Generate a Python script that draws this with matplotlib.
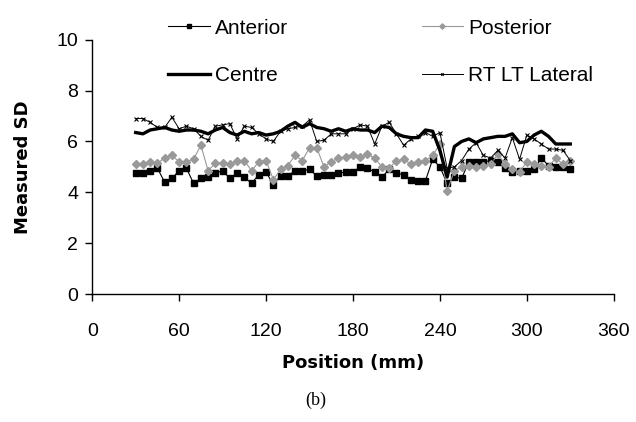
import matplotlib

matplotlib.use("Agg")

import matplotlib.pyplot as plt
import numpy as np

# positions every 5 mm from 30 to 330
position = np.arange(30, 335, 5)

anterior = [4.75, 4.75, 4.85, 4.95, 4.4, 4.55, 4.85, 4.95, 4.35, 4.55,
            4.6, 4.75, 4.85, 4.55, 4.75, 4.6, 4.35, 4.7, 4.8, 4.3,
            4.65, 4.65, 4.85, 4.85, 4.9, 4.65, 4.7, 4.7, 4.75, 4.8,
            4.8, 5.0, 4.95, 4.8, 4.6, 4.9, 4.75, 4.7, 4.5, 4.45,
            4.45, 5.3, 5.0, 4.35, 4.6, 4.55, 5.2, 5.2, 5.2, 5.25,
            5.2, 4.95, 4.8, 4.85, 4.85, 4.9, 5.35, 5.05, 5.0, 5.0,
            4.9]

posterior = [5.1, 5.1, 5.2, 5.15, 5.35, 5.45, 5.2, 5.2, 5.3, 5.85,
             4.85, 5.15, 5.15, 5.1, 5.25, 5.25, 4.85, 5.2, 5.25, 4.5,
             4.9, 5.05, 5.45, 5.25, 5.75, 5.75, 5.0, 5.2, 5.35, 5.4,
             5.45, 5.4, 5.5, 5.35, 5.0, 4.95, 5.25, 5.3, 5.1, 5.2,
             5.25, 5.45, 5.9, 4.05, 4.85, 5.0, 5.05, 5.0, 5.05, 5.1,
             5.5, 5.1, 4.9, 4.8, 5.2, 5.1, 5.05, 5.0, 5.35, 5.1,
             5.25]

centre = [6.35, 6.3, 6.45, 6.5, 6.55, 6.45, 6.4, 6.45, 6.45, 6.4,
          6.3, 6.45, 6.55, 6.35, 6.25, 6.4, 6.3, 6.35, 6.25, 6.3,
          6.4, 6.6, 6.75, 6.55, 6.7, 6.55, 6.5, 6.4, 6.5, 6.4,
          6.5, 6.45, 6.45, 6.35, 6.6, 6.55, 6.3, 6.2, 6.15, 6.15,
          6.45, 6.4, 5.65, 4.6, 5.8, 6.0, 6.1, 5.95, 6.1, 6.15,
          6.2, 6.2, 6.3, 5.95, 6.0, 6.25, 6.4, 6.2, 5.9, 5.9,
          5.9]

rt_lt_lateral = [6.9, 6.9, 6.75, 6.55, 6.55, 6.95, 6.5, 6.6, 6.5, 6.2,
                 6.05, 6.6, 6.65, 6.7, 6.1, 6.6, 6.55, 6.3, 6.1, 6.0,
                 6.4, 6.5, 6.55, 6.6, 6.85, 6.0, 6.05, 6.3, 6.3, 6.3,
                 6.5, 6.65, 6.6, 5.9, 6.6, 6.75, 6.3, 5.85, 6.1, 6.2,
                 6.35, 6.2, 6.35, 4.95, 5.0, 5.25, 5.7, 5.95, 5.45, 5.35,
                 5.65, 5.35, 6.15, 5.3, 6.25, 6.1, 5.9, 5.7, 5.7, 5.65,
                 5.25]

x_ticks = [0, 60, 120, 180, 240, 300, 360]
y_ticks = [0, 2, 4, 6, 8, 10]

plt.rcParams["font.family"] = ["Liberation Sans", "DejaVu Sans"]

fig = plt.figure(figsize=(6.36, 4.22), dpi=100)
ax = fig.add_axes([0.145, 0.303, 0.82, 0.603])

l_ant, = ax.plot(position, anterior, "-", color="black", lw=0.8,
                 marker="s", ms=5, label="Anterior")
l_post, = ax.plot(position, posterior, "-", color="#999999", lw=0.8,
                  marker="D", ms=4.5, label="Posterior")
l_cen, = ax.plot(position, centre, "-", color="black", lw=2.4,
                 label="Centre")
l_rt, = ax.plot(position, rt_lt_lateral, "-", color="black", lw=0.7,
                marker="x", ms=3, mew=0.8, label="RT LT Lateral")

ax.set_xlim(0, 360)
ax.set_ylim(0, 10)
ax.set_xticks(x_ticks)
ax.set_yticks(y_ticks)
ax.tick_params(direction="out", length=5, width=1, labelsize=14, pad=5)
ax.tick_params(axis="x", pad=16)
for s in ("top", "right"):
    ax.spines[s].set_visible(False)
for s in ("left", "bottom"):
    ax.spines[s].set_linewidth(1)

ax.set_xlabel("Position (mm)", fontsize=13, fontweight="bold",
              family="DejaVu Sans", labelpad=10)
ax.set_ylabel("Measured SD", fontsize=13, fontweight="bold",
              family="DejaVu Sans", labelpad=18)

fig.legend([l_ant, l_cen, l_post, l_rt],
           ["Anterior", "Centre", "Posterior", "RT LT Lateral"],
           ncol=2, frameon=False, fontsize=15, loc="upper left",
           bbox_to_anchor=(0.235, 1.0), handlelength=2.0, handletextpad=0.25,
           labelspacing=1.35, columnspacing=6.4, markerscale=0.6)

fig.text(0.497, 0.052, "(b)", ha="center", va="center", fontsize=13,
         family="Liberation Serif")

fig.savefig("out.png", dpi=100)
